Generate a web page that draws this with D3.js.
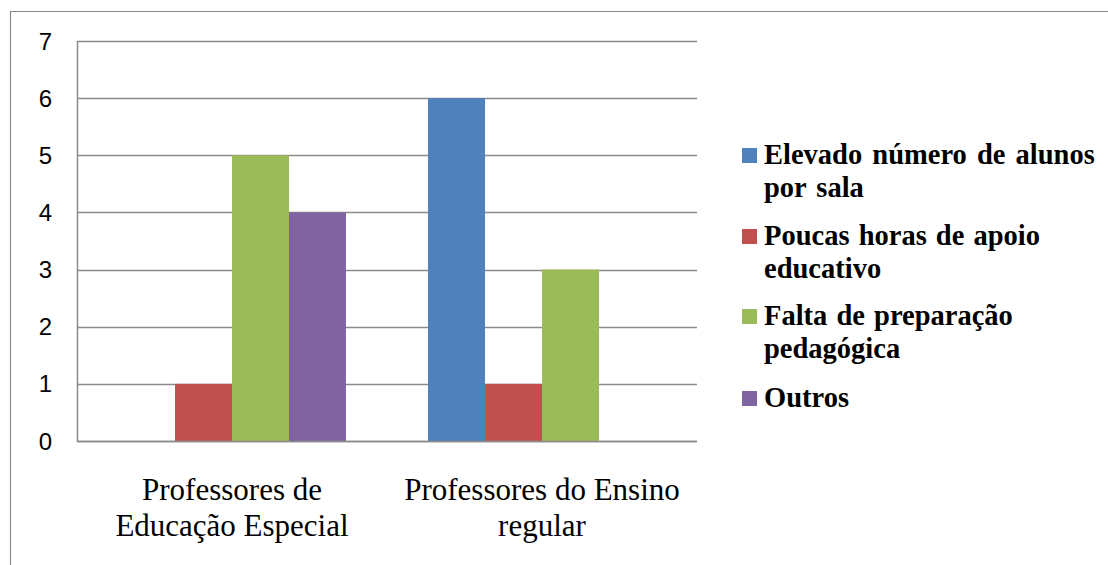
<!DOCTYPE html>
<html><head><meta charset="utf-8">
<script src="https://cdn.jsdelivr.net/npm/d3@7"></script>
<style>html,body{margin:0;padding:0;background:#fff;}svg{display:block;}</style>
</head><body>
<svg id="chart" width="1108" height="565"></svg>
<script>
const categories = ["Professores de Educação Especial", "Professores do Ensino regular"];
const categoryLines = [["Professores de", "Educação Especial"], ["Professores do Ensino", "regular"]];
const series = ["Elevado número de alunos por sala", "Poucas horas de apoio educativo", "Falta de preparação pedagógica", "Outros"];
const seriesLines = [["Elevado número de alunos", "por sala"], ["Poucas horas de apoio", "educativo"], ["Falta de preparação", "pedagógica"], ["Outros"]];
const elevado = [0, 6];
const poucas = [1, 1];
const falta = [5, 3];
const outros = [4, 0];
const yTicks = [0, 1, 2, 3, 4, 5, 6, 7];
const colors = ["#4F81BD", "#C0504D", "#9BBB59", "#8064A2"];

const seriesValues = [elevado, poucas, falta, outros];
const svg = d3.select("#chart");

// outer frame
svg.append("path").attr("d", "M10.5,565 L10.5,11.5 L1108,11.5")
  .attr("fill", "none").attr("stroke", "#8c8c8c").attr("stroke-width", 1.2);

const plot = {left: 77, right: 697, top: 41, bottom: 441};
const y = d3.scaleLinear().domain([0, 7]).range([plot.bottom, plot.top]);
const x0 = d3.scaleBand().domain(categories).range([plot.left, plot.right]).padding(0);
const x1 = d3.scaleBand().domain(series).range([0, x0.bandwidth()]).paddingInner(0).paddingOuter(0.72);

// gridlines
svg.append("g").selectAll("line").data(yTicks).join("line")
  .attr("x1", plot.left).attr("x2", plot.right)
  .attr("y1", d => Math.round(y(d)) + 0.5).attr("y2", d => Math.round(y(d)) + 0.5)
  .attr("stroke", "#8a8a8a").attr("stroke-width", 1.5);

// bars
const groups = svg.append("g").selectAll("g").data(categories).join("g")
  .attr("transform", c => `translate(${x0(c)},0)`);
groups.selectAll("rect").data((c, ci) => series.map((s, si) => ({s, si, v: seriesValues[si][ci]})))
  .join("rect")
  .attr("x", d => x1(d.s)).attr("width", x1.bandwidth())
  .attr("y", d => y(d.v)).attr("height", d => y(0) - y(d.v))
  .attr("fill", d => colors[d.si]);

// left axis line
svg.append("line").attr("x1", plot.left + 0.5).attr("x2", plot.left + 0.5)
  .attr("y1", plot.top).attr("y2", plot.bottom + 1)
  .attr("stroke", "#8a8a8a").attr("stroke-width", 1.5);
// bottom axis line
svg.append("line").attr("x1", plot.left).attr("x2", plot.right)
  .attr("y1", Math.round(y(0)) + 0.5).attr("y2", Math.round(y(0)) + 0.5)
  .attr("stroke", "#8a8a8a").attr("stroke-width", 1.5);

// y tick labels
svg.append("g").selectAll("text").data(yTicks).join("text")
  .attr("x", 52).attr("y", d => y(d)).attr("dy", "0.36em")
  .attr("text-anchor", "end")
  .style("font-family", "'Liberation Sans', Arial, sans-serif").style("font-size", "24px")
  .attr("fill", "#000").text(d => d);

// category labels
const catG = svg.append("g").selectAll("text").data(categories).join("text")
  .attr("text-anchor", "middle")
  .style("font-family", "'Liberation Serif', 'DejaVu Serif', serif").style("font-size", "31px")
  .attr("fill", "#000");
catG.each(function(c, ci) {
  const t = d3.select(this);
  categoryLines[ci].forEach((ln, li) => {
    t.append("tspan").attr("x", x0(c) + x0.bandwidth() / 2).attr("y", 500 + li * 36).text(ln);
  });
});

// legend
const legBase = [164, 245, 325, 407];
const leg = svg.append("g").selectAll("g").data(series).join("g");
leg.append("rect").attr("x", 742).attr("y", (d, i) => legBase[i] - 16).attr("width", 15).attr("height", 15)
  .attr("fill", (d, i) => colors[i]);
leg.append("text")
  .style("font-family", "'Liberation Serif', 'DejaVu Serif', serif").style("font-size", "28.5px")
  .style("font-weight", "bold").style("word-spacing", (d, i) => i === 0 ? "3px" : "2px").attr("fill", "#000")
  .each(function(d, i) {
    const t = d3.select(this);
    seriesLines[i].forEach((ln, li) => {
      t.append("tspan").attr("x", 764).attr("y", legBase[i] + li * 33).text(ln);
    });
  });
</script>
</body></html>
